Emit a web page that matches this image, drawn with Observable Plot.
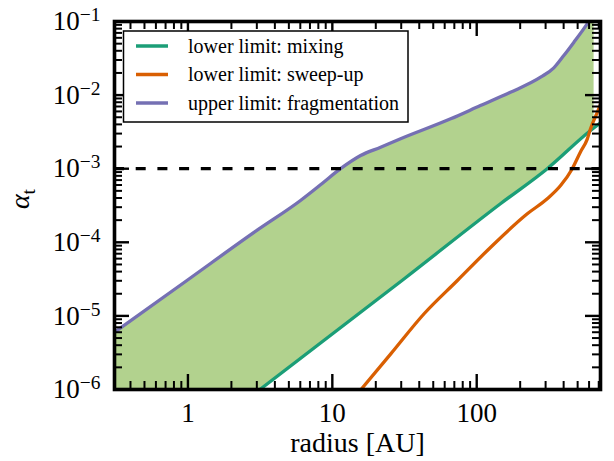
<!DOCTYPE html>
<html><head><meta charset="utf-8">
<script src="https://cdn.jsdelivr.net/npm/d3@7"></script>
<script src="https://cdn.jsdelivr.net/npm/@observablehq/plot@0.6"></script>
<style>
html,body{margin:0;padding:0;background:#fff;}
#chart{width:614px;height:461px;}
</style></head><body><div id="chart"></div>
<script>
// upper limit: fragmentation
const fragR = [0.31, 1, 3, 6.02, 8.5, 11.4, 15.7, 21.6, 29.7, 66, 106, 171, 277, 342, 401, 470, 582, 650];
const fragA = [6e-6, 3.1e-5, 1.45e-4, 3.7e-4, 6.3e-4, 1.0e-3, 1.51e-3, 1.96e-3, 2.55e-3, 4.76e-3, 7.2e-3, 1.09e-2, 1.75e-2, 2.35e-2, 3.45e-2, 5.2e-2, 9.3e-2, 1.3e-1];
// lower limit: mixing
const mixR = [3.15, 31.5, 146, 308, 614, 720];
const mixA = [1e-6, 3.2e-5, 3.34e-4, 1e-3, 3.3e-3, 4.2e-3];
// lower limit: sweep-up
const sweepR = [15.8, 25.4, 43.2, 73.5, 125, 224, 308, 381, 459, 524, 582, 614, 683, 720];
const sweepA = [1e-6, 3.05e-6, 1.07e-5, 3.03e-5, 8.58e-5, 2.44e-4, 3.9e-4, 5.9e-4, 1e-3, 1.7e-3, 2.5e-3, 3.5e-3, 5.8e-3, 7.5e-3];
const threshold = [1e-3];

const xTickLabels = [1, 10, 100];
const yTickLabels = [1e-6, 1e-5, 1e-4, 1e-3, 1e-2, 1e-1];
const legendLabels = ["lower limit: mixing", "lower limit: sweep-up", "upper limit: fragmentation"];
const colors = ["#1b9e77", "#d95f02", "#7570b3"];

const frag = fragR.map((r, i) => ({r, a: fragA[i]}));
const mix = mixR.map((r, i) => ({r, a: mixA[i]}));
const sweep = sweepR.map((r, i) => ({r, a: sweepA[i]}));

const xDomain = [0.31, 720], yDomain = [1e-6, 1e-1];
const xMinor = [];
[0.1, 1, 10, 100].forEach(d => { for (let m = 2; m <= 9; m++) { const v = m * d; if (v > xDomain[0] && v < xDomain[1]) xMinor.push(v); } });
const yMinor = [];
[1e-6, 1e-5, 1e-4, 1e-3, 1e-2].forEach(d => { for (let m = 2; m <= 9; m++) yMinor.push(m * d); });

const W = 614, H = 461, mL = 114, mR = 14, mT = 21, mB = 72;
const majL = 15, minL = 8;
const serif = "'Liberation Serif', 'DejaVu Serif', serif";

// tick lengths expressed as log-scale factors (pixels -> decades)
const xDecPerPx = Math.log10(xDomain[1] / xDomain[0]) / (W - mL - mR);
const yDecPerPx = Math.log10(yDomain[1] / yDomain[0]) / (H - mT - mB);
const fXmaj = 10 ** (majL * xDecPerPx), fXmin = 10 ** (minL * xDecPerPx);
const fYmaj = 10 ** (majL * yDecPerPx), fYmin = 10 ** (minL * yDecPerPx);

const plot = Plot.plot({
  width: W, height: H,
  marginLeft: mL, marginRight: mR, marginTop: mT, marginBottom: mB,
  style: {fontFamily: serif, fontSize: "27px", color: "#000", background: "#fff"},
  x: {type: "log", domain: xDomain},
  y: {type: "log", domain: yDomain},
  marks: [
    Plot.areaY(frag, {x: "r", y1: 1e-6, y2: "a", fill: "#b2d28e", curve: "monotone-x", clip: true}),
    Plot.areaY(mix, {x: "r", y1: 1e-6, y2: "a", fill: "#fff", curve: "monotone-x", clip: true}),
    Plot.line(mix, {x: "r", y: "a", stroke: colors[0], strokeWidth: 3.3, curve: "monotone-x", clip: true}),
    Plot.line(sweep, {x: "r", y: "a", stroke: colors[1], strokeWidth: 3.3, curve: "monotone-x", clip: true}),
    Plot.line(frag, {x: "r", y: "a", stroke: colors[2], strokeWidth: 3.3, curve: "monotone-x", clip: true}),
    Plot.ruleY(threshold, {stroke: "#000", strokeWidth: 3.3, strokeDasharray: "10,11.7"}),
    // inward ticks, bottom and top
    Plot.ruleX(xTickLabels, {x: d => d, y1: yDomain[0], y2: yDomain[0] * fYmaj, stroke: "#000", strokeWidth: 2.4}),
    Plot.ruleX(xTickLabels, {x: d => d, y1: yDomain[1], y2: yDomain[1] / fYmaj, stroke: "#000", strokeWidth: 2.4}),
    Plot.ruleX(xMinor, {x: d => d, y1: yDomain[0], y2: yDomain[0] * fYmin, stroke: "#000", strokeWidth: 2}),
    Plot.ruleX(xMinor, {x: d => d, y1: yDomain[1], y2: yDomain[1] / fYmin, stroke: "#000", strokeWidth: 2}),
    // inward ticks, left and right
    Plot.ruleY(yTickLabels, {y: d => d, x1: xDomain[0], x2: xDomain[0] * fXmaj, stroke: "#000", strokeWidth: 2.4}),
    Plot.ruleY(yTickLabels, {y: d => d, x1: xDomain[1], x2: xDomain[1] / fXmaj, stroke: "#000", strokeWidth: 2.4}),
    Plot.ruleY(yMinor, {y: d => d, x1: xDomain[0], x2: xDomain[0] * fXmin, stroke: "#000", strokeWidth: 2}),
    Plot.ruleY(yMinor, {y: d => d, x1: xDomain[1], x2: xDomain[1] / fXmin, stroke: "#000", strokeWidth: 2}),
    Plot.axisX({ticks: xTickLabels, tickSize: 0, tickPadding: 13, tickFormat: d => String(d), label: null}),
    Plot.axisY({ticks: yTickLabels, tickSize: 0, tickPadding: 14, tickFormat: d => "\u2212" + Math.round(-Math.log10(d)), label: null}),
    Plot.text(["radius [AU]"], {text: d => d, frameAnchor: "bottom", dy: 62, fontSize: 28}),
    Plot.frame({stroke: "#000", strokeWidth: 3.6})
  ]
});

const svg = d3.select(plot);

// superscript exponents on y tick labels
svg.selectAll('g[aria-label="y-axis tick label"] text').each(function() {
  const t = d3.select(this);
  const e = t.text();
  t.text("10");
  t.append("tspan").attr("dy", "-0.46em").attr("font-size", "0.72em").text(e);
});

// y-axis label alpha_t
const yl = svg.append("text")
  .attr("transform", "translate(29,199) rotate(-90)")
  .attr("text-anchor", "middle")
  .attr("font-family", serif)
  .attr("font-size", 28)
  .attr("fill", "#000");
yl.append("tspan").attr("font-style", "italic").text("α");
yl.append("tspan").attr("font-size", "0.7em").attr("dy", "0.28em").text("t");

// legend
const lg = svg.append("g");
lg.append("rect").attr("x", 123.5).attr("y", 31).attr("width", 284.5).attr("height", 91)
  .attr("fill", "#fff").attr("stroke", "#000").attr("stroke-width", 1.5);
legendLabels.forEach((lab, i) => {
  const cy = 46 + i * 28.5;
  lg.append("line").attr("x1", 136).attr("x2", 168).attr("y1", cy).attr("y2", cy)
    .attr("stroke", colors[i]).attr("stroke-width", 3.5);
  lg.append("text").attr("x", 188).attr("y", cy + 6.5).attr("text-anchor", "start")
    .attr("font-family", serif).attr("font-size", 20).attr("fill", "#000").text(lab);
});

document.getElementById("chart").appendChild(plot);
</script>
</body></html>
